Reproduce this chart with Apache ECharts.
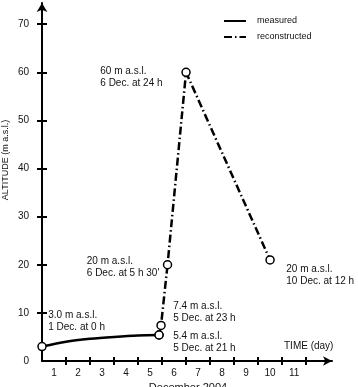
<!DOCTYPE html>
<html>
<head>
<meta charset="utf-8">
<script src="https://cdn.jsdelivr.net/npm/echarts@6/dist/echarts.min.js"></script>
<style>
html,body{margin:0;padding:0;background:#fff;}
#c{width:358px;height:387px;}
</style>
</head>
<body>
<div id="c"></div>
<script>
// ---- data (time in days since 1 Dec 2004, 0 h; altitude in m a.s.l.) ----
const measuredT   = [0, 1, 2, 3, 4, 4.875];
const measuredAlt = [3.0, 4.0, 4.6, 5.0, 5.3, 5.4];
const measuredMarked = [true, false, false, false, false, true];

const reconT   = [4.875, 4.9583, 5.2292, 6, 9.5];
const reconAlt = [5.4, 7.4, 20, 60, 21];

const reconNotes = [
  "5.4 m a.s.l.\n5 Dec. at 21 h",
  "7.4 m a.s.l.\n5 Dec. at 23 h",
  "20 m a.s.l.\n6 Dec. at 5 h 30'",
  "60 m a.s.l.\n6 Dec. at 24 h",
  "20 m a.s.l.\n10 Dec. at 12 h"
];
const measuredNotes = ["3.0 m a.s.l.\n1 Dec. at 0 h", "", "", "", "", ""];

const dayLabels = ["1","2","3","4","5","6","7","8","9","10","11"];
const yTickLabels = [0,10,20,30,40,50,60,70];

// ---- layout/style (not data) ----
const FONT = "Liberation Sans";
const reconLabelPos = [[19,0],[17,-20],[-76,-5],[-81,-2],[21,8]];
const measuredLabelPos = [[11,-33]];

const labelStyle = {fontFamily: FONT, fontSize: 10, color: '#111', lineHeight: 12, align: 'left', verticalAlign: 'top'};

const measuredData = measuredT.map((t, i) => {
  const item = {value: [t, measuredAlt[i]]};
  if (!measuredMarked[i]) item.symbol = 'none';
  if (measuredNotes[i]) {
    item.label = Object.assign({show: true, position: measuredLabelPos[i], formatter: measuredNotes[i]}, labelStyle);
  }
  return item;
});
const reconData = reconT.map((t, i) => ({
  value: [t, reconAlt[i]],
  label: Object.assign({show: true, position: reconLabelPos[i], formatter: reconNotes[i]}, labelStyle)
}));

const xMin = 0, xMax = 12.08, yMin = 0, yMax = 74.4;
const dayTickVals = dayLabels.map((d, i) => i + 1);
const dayLabelVals = dayLabels.map((d, i) => i + 0.5);

const chart = echarts.init(document.getElementById('c'), null, {renderer: 'canvas'});
chart.setOption({
  animation: false,
  backgroundColor: '#fff',
  grid: {left: 42, right: 26, top: 3, bottom: 26, containLabel: false},
  legend: {
    left: 223, top: 16, orient: 'vertical', padding: 0,
    itemWidth: 22, itemHeight: 10, itemGap: 6,
    data: ['measured', 'reconstructed'],
    itemStyle: {opacity: 0},
    textStyle: {fontFamily: FONT, fontSize: 9, color: '#111', padding: [0,0,0,6]}
  },
  xAxis: [
    {
      type: 'value', min: xMin, max: xMax, position: 'bottom',
      axisLine: {show: true, onZero: false, lineStyle: {color: '#000', width: 2}, symbol: ['none', 'arrow'], symbolSize: [7, 9]},
      axisTick: {show: true, length: 4, inside: false, lineStyle: {color: '#000', width: 2}, customValues: dayTickVals},
      axisLabel: {show: true, customValues: dayLabelVals, margin: 7, fontFamily: FONT, fontSize: 10, color: '#111',
        formatter: v => dayLabels[Math.round(v - 0.5)] || ''},
      splitLine: {show: false}
    },
    {
      type: 'value', min: xMin, max: xMax, position: 'bottom',
      axisLine: {show: false, onZero: false},
      axisTick: {show: true, length: 4, inside: true, lineStyle: {color: '#000', width: 2}, customValues: dayTickVals},
      axisLabel: {show: false},
      splitLine: {show: false}
    }
  ],
  yAxis: [
    {
      type: 'value', min: yMin, max: yMax, position: 'left',
      axisLine: {show: true, onZero: false, lineStyle: {color: '#000', width: 2}, symbol: ['none', 'arrow'], symbolSize: [8, 9]},
      axisTick: {show: true, length: 5, inside: false, lineStyle: {color: '#000', width: 2}, customValues: yTickLabels.filter(v => v > 0)},
      axisLabel: {show: true, customValues: yTickLabels, margin: 13, fontFamily: FONT, fontSize: 10, color: '#111'},
      splitLine: {show: false}
    },
    {
      type: 'value', min: yMin, max: yMax, position: 'left',
      axisLine: {show: false, onZero: false},
      axisTick: {show: true, length: 5, inside: true, lineStyle: {color: '#000', width: 2}, customValues: yTickLabels.filter(v => v > 0)},
      axisLabel: {show: false},
      splitLine: {show: false}
    }
  ],
  graphic: [
    {type: 'text', x: 6, y: 160, rotation: Math.PI / 2,
      style: {text: 'ALTITUDE (m a.s.l.)', fontFamily: FONT, fontSize: 9, fill: '#111', align: 'center', verticalAlign: 'middle'}},
    {type: 'text', x: 284, y: 341,
      style: {text: 'TIME (day)', fontFamily: FONT, fontSize: 10, fill: '#111', align: 'left', verticalAlign: 'top'}},
    {type: 'text', x: 188, y: 382,
      style: {text: 'December 2004', fontFamily: FONT, fontSize: 11, fill: '#111', align: 'center', verticalAlign: 'top'}}
  ],
  series: [
    {
      name: 'measured', type: 'line', xAxisIndex: 0, yAxisIndex: 0,
      data: measuredData, smooth: 0.3,
      symbol: 'circle', symbolSize: 8,
      lineStyle: {color: '#000', width: 2.5, type: 'solid'},
      itemStyle: {color: '#fff', borderColor: '#000', borderWidth: 1.5},
      z: 3
    },
    {
      name: 'reconstructed', type: 'line', xAxisIndex: 0, yAxisIndex: 0,
      data: reconData,
      symbol: 'circle', symbolSize: 8,
      lineStyle: {color: '#000', width: 2.5, type: [8, 3, 1.5, 3]},
      itemStyle: {color: '#fff', borderColor: '#000', borderWidth: 1.5},
      z: 2
    }
  ]
});
</script>
</body>
</html>
